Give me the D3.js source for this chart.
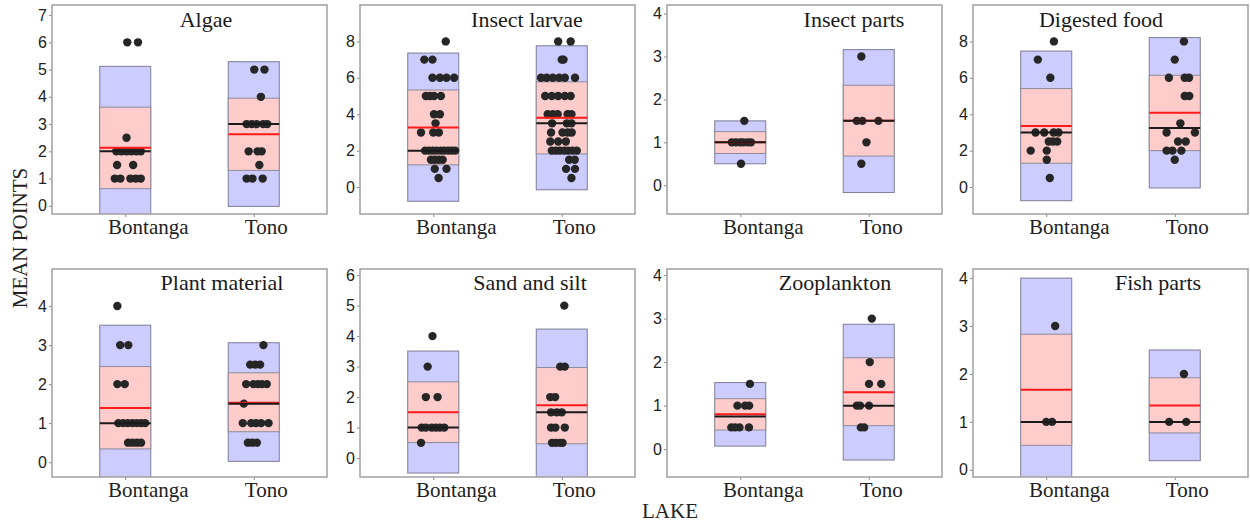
<!DOCTYPE html>
<html>
<head>
<meta charset="utf-8">
<script src="https://cdn.jsdelivr.net/npm/d3@7"></script>
<style>
body { margin: 0; background: #fff; }
</style>
</head>
<body>
<svg width="1250" height="524"></svg>
<script>
// data
const panelNames = ['Algae', 'Insect larvae', 'Insect parts', 'Digested food',
    'Plant material', 'Sand and silt', 'Zooplankton', 'Fish parts'];
const lakes = ['Bontanga', 'Tono'];

const yDomains = [[-0.3, 7.37], [-1.48, 10.0], [-0.67, 4.2], [-1.48, 10.0],
    [-0.38, 4.95], [-0.62, 6.2], [-0.64, 4.14], [-0.15, 4.19]];
const yTicks = [[0, 1, 2, 3, 4, 5, 6, 7], [0, 2, 4, 6, 8], [0, 1, 2, 3, 4], [0, 2, 4, 6, 8],
    [0, 1, 2, 3, 4], [0, 1, 2, 3, 4, 5, 6], [0, 1, 2, 3, 4], [0, 1, 2, 3, 4]];

// blue band (outer) and pink band (inner), [Bontanga, Tono]
const outerLow = [[-0.86, -0.02], [-0.78, -0.15], [0.50, -0.17], [-0.75, -0.05],
    [-0.73, 0.02], [-0.49, -0.77], [0.07, -0.25], [-0.66, 0.19]];
const outerHigh = [[5.12, 5.29], [7.36, 7.76], [1.50, 3.16], [7.47, 8.21],
    [3.51, 3.06], [3.51, 4.23], [1.53, 2.87], [4.0, 2.5]];
const innerLow = [[0.63, 1.30], [1.22, 1.82], [0.74, 0.68], [1.31, 2.0],
    [0.34, 0.78], [0.51, 0.47], [0.44, 0.54], [0.51, 0.77]];
const innerHigh = [[3.62, 3.95], [5.33, 5.78], [1.25, 2.33], [5.41, 6.14],
    [2.45, 2.29], [2.50, 2.97], [1.16, 2.10], [2.83, 1.92]];
const means = [[2.13, 2.63], [3.27, 3.80], [1.0, 1.5], [3.35, 4.08],
    [1.39, 1.52], [1.50, 1.73], [0.80, 1.31], [1.67, 1.34]];
const medians = [[2, 3], [2, 3.5], [1, 1.5], [3, 3.25],
    [1, 1.5], [1, 1.5], [0.75, 1], [1, 1]];

// individual points and their sideways jitter (-1..1 of half box width)
const pointVals = [
    [[6, 6, 2.5, 2, 2, 2, 2, 2, 2, 1.5, 1.5, 1, 1, 1, 1, 1],
     [5, 5, 4, 3, 3, 3, 3, 3, 2, 2, 2, 1.5, 1, 1, 1]],
    [[8, 7, 7, 6, 6, 6, 6, 5, 5, 5, 5, 4, 4, 3.5, 3, 3, 3, 2, 2, 2, 2, 2, 2, 2, 2, 2, 1.5, 1.5, 1.5, 1.5, 1, 1, 0.5],
     [8, 8, 7, 7, 6, 6, 6, 6, 6, 6, 5, 5, 5, 5, 5, 4, 4, 4, 4, 4, 3.5, 3.5, 3.5, 3, 3, 3, 3, 2.5, 2.5, 2.5, 2, 2, 2, 2, 2, 2, 2, 1.5, 1.5, 1, 1, 0.5]],
    [[1.5, 1, 1, 1, 1, 1, 1, 0.5],
     [3, 1.5, 1.5, 1.5, 1, 0.5]],
    [[8, 7, 6, 3, 3, 3, 3, 2.5, 2.5, 2.5, 2, 2, 1.5, 0.5],
     [8, 7, 6, 6, 6, 5, 5, 3.5, 3, 3, 2.5, 2.5, 2, 2, 2, 1.5]],
    [[4, 3, 3, 2, 2, 1, 1, 1, 1, 1, 1, 1, 0.5, 0.5, 0.5, 0.5],
     [3, 2.5, 2.5, 2.5, 2, 2, 2, 2, 2, 1.5, 1, 1, 1, 1, 1, 0.5, 0.5, 0.5]],
    [[4, 3, 2, 2, 1, 1, 1, 1, 1, 1, 0.5],
     [5, 3, 3, 2, 2, 1.5, 1.5, 1.5, 1, 1, 1, 0.5, 0.5, 0.5, 0.5]],
    [[1.5, 1, 1, 1, 0.5, 0.5, 0.5, 0.5],
     [3, 2, 1.5, 1.5, 1, 1, 1, 0.5, 0.5]],
    [[3, 1, 1],
     [2, 1, 1]]
];
const pointJitter = [
    [[0.08, 0.5, 0.05, -0.35, -0.15, 0.05, 0.24, 0.44, 0.61, -0.32, 0.31, -0.41, -0.19, 0.2, 0.41, 0.61],
     [0.02, 0.42, 0.28, -0.28, -0.08, 0.11, 0.37, 0.53, -0.2, 0.15, 0.31, 0.22, -0.28, -0.05, 0.35]],
    [[0.49, -0.35, -0.03, -0.03, 0.26, 0.52, 0.82, -0.29, -0.13, 0.03, 0.3, 0.03, 0.26, 0.09, -0.48, 0, 0.22, -0.32, -0.17, -0.02, 0.13, 0.29, 0.43, 0.58, 0.72, 0.86, -0.09, 0.06, 0.22, 0.37, 0.06, 0.52, 0.21],
     [-0.14, 0.35, 0, 0.07, -0.81, -0.59, -0.35, -0.1, 0.12, 0.52, -0.65, -0.39, -0.14, 0.12, 0.35, -0.55, -0.35, -0.16, 0.23, 0.38, -0.38, 0.2, 0.38, -0.42, 0.03, 0.23, 0.39, -0.45, -0.14, 0.16, -0.39, -0.23, -0.07, 0.1, 0.25, 0.42, 0.59, 0.29, 0.51, 0.17, 0.52, 0.38]],
    [[0.16, -0.33, -0.17, 0, 0.12, 0.29, 0.42, 0.03],
     [-0.29, -0.47, -0.25, 0.38, -0.09, -0.29]],
    [[0.3, -0.33, 0.16, -0.42, -0.08, 0.29, 0.48, 0.1, 0.26, 0.43, -0.61, 0.02, 0.02, 0.14],
     [0.36, 0, -0.23, 0.39, 0.56, 0.39, 0.57, 0.22, -0.32, 0.79, 0.13, 0.43, -0.32, -0.09, 0.26, 0]],
    [[-0.31, -0.2, 0.12, -0.31, -0.02, -0.27, -0.08, 0.1, 0.28, 0.45, 0.62, 0.78, 0.11, 0.28, 0.45, 0.62],
     [0.38, -0.14, 0.06, 0.25, -0.3, -0.01, 0.16, 0.32, 0.51, -0.39, -0.43, -0.1, 0.09, 0.29, 0.58, -0.23, -0.06, 0.12]],
    [[-0.03, -0.22, -0.29, 0.17, -0.45, -0.29, -0.06, 0.1, 0.26, 0.43, -0.48],
     [0.1, -0.06, 0.12, -0.45, -0.26, -0.42, -0.19, 0, -0.42, -0.25, 0.12, -0.38, -0.23, -0.06, 0.03]],
    [[0.38, -0.11, 0.19, 0.35, -0.35, -0.2, -0.03, 0.34],
     [0.12, 0.04, 0.01, 0.49, -0.47, -0.34, 0.01, -0.31, -0.18]],
    [[0.35, 0, 0.23],
     [0.36, -0.22, 0.45]]
];

const svg = d3.select('svg');

const panelW = 275;
const panelH = [209, 208];
const colLeft = [52, 360, 667, 973];
const rowTop = [5, 269];
const titleX = [154, 167, 187, 128, 170, 170, 168, 185];
const boxW = 51;
const serif = '"Liberation Serif", "Times New Roman", serif';
const sans = '"Liberation Sans", Arial, sans-serif';

panelNames.forEach((name, i) => {
    const row = Math.floor(i / 4);
    const h = panelH[row];
    const g = svg.append('g')
        .attr('transform', `translate(${colLeft[i % 4]},${rowTop[row]})`);

    const xScale = d3.scalePoint()
        .domain(lakes)
        .range([0, panelW])
        .padding(0.57);
    const yScale = d3.scaleLinear()
        .domain(yDomains[i])
        .range([h, 0]);
    const jitter = d3.scaleLinear()
        .domain([-1, 1])
        .range([-boxW / 2, boxW / 2]);

    svg.append('clipPath').attr('id', 'clip' + i)
        .append('rect').attr('width', panelW).attr('height', h);

    const plot = g.append('g').attr('clip-path', `url(#clip${i})`);

    lakes.forEach((lake, j) => {
        const cx = xScale(lake);
        plot.append('rect')
            .attr('x', cx - boxW / 2)
            .attr('y', yScale(outerHigh[i][j]))
            .attr('width', boxW)
            .attr('height', yScale(outerLow[i][j]) - yScale(outerHigh[i][j]))
            .attr('fill', '#ccccff')
            .attr('stroke', '#7d7d95')
            .attr('stroke-width', 1);
        plot.append('rect')
            .attr('x', cx - boxW / 2)
            .attr('y', yScale(innerHigh[i][j]))
            .attr('width', boxW)
            .attr('height', yScale(innerLow[i][j]) - yScale(innerHigh[i][j]))
            .attr('fill', '#ffcccc')
            .attr('stroke', '#8c8c9a')
            .attr('stroke-width', 1);

        plot.selectAll(null).data(pointVals[i][j])
            .enter().append('circle')
                .attr('cx', (d, k) => cx + jitter(pointJitter[i][j][k]))
                .attr('cy', d => yScale(d))
                .attr('r', 4.2)
                .attr('fill', '#262626');

        plot.append('line')
            .attr('x1', cx - boxW / 2).attr('x2', cx + boxW / 2)
            .attr('y1', yScale(means[i][j])).attr('y2', yScale(means[i][j]))
            .attr('stroke', '#ff1a1a')
            .attr('stroke-width', 2);
        plot.append('line')
            .attr('x1', cx - boxW / 2).attr('x2', cx + boxW / 2)
            .attr('y1', yScale(medians[i][j])).attr('y2', yScale(medians[i][j]))
            .attr('stroke', '#1a1a1a')
            .attr('stroke-width', 2);
    });

    // y axis
    const yAxisG = g.append('g')
        .call(d3.axisLeft(yScale).tickValues(yTicks[i]).tickFormat(d3.format('d'))
            .tickSize(3).tickPadding(2));
    yAxisG.select('.domain').remove();
    yAxisG.selectAll('line').attr('stroke', '#8a8a8a');
    yAxisG.selectAll('text')
        .attr('font-family', sans)
        .attr('font-size', 16)
        .attr('fill', '#222');

    // x axis
    const xAxisG = g.append('g')
        .attr('transform', `translate(0,${h})`)
        .call(d3.axisBottom(xScale).tickSize(3).tickPadding(2));
    xAxisG.select('.domain').remove();
    xAxisG.selectAll('line').attr('stroke', '#8a8a8a');
    xAxisG.selectAll('text')
        .attr('font-family', serif)
        .attr('font-size', 21)
        .attr('fill', '#222')
        .attr('dx', function() { return 0.28 * this.getComputedTextLength(); });

    // frame
    g.append('rect')
        .attr('width', panelW)
        .attr('height', h)
        .attr('fill', 'none')
        .attr('stroke', '#a0a0a0')
        .attr('stroke-width', 1.5);

    g.append('text')
        .attr('x', titleX[i])
        .attr('y', row === 0 ? 22 : 21)
        .attr('text-anchor', 'middle')
        .attr('font-family', serif)
        .attr('font-size', 22)
        .attr('fill', '#1a1a1a')
        .text(name);
});

svg.append('text')
    .attr('transform', 'translate(27,238) rotate(-90)')
    .attr('text-anchor', 'middle')
    .attr('font-family', serif)
    .attr('font-size', 21)
    .attr('fill', '#222')
    .text('MEAN POINTS');

svg.append('text')
    .attr('x', 670)
    .attr('y', 518)
    .attr('text-anchor', 'middle')
    .attr('font-family', serif)
    .attr('font-size', 21)
    .attr('fill', '#222')
    .text('LAKE');
</script>
</body>
</html>
